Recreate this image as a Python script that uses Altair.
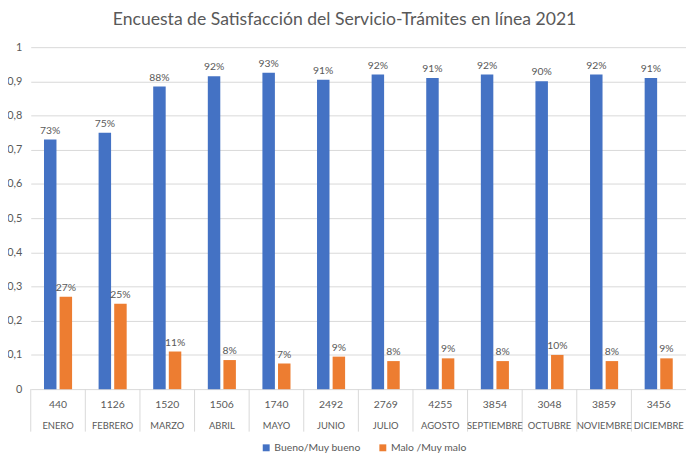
import altair as alt
import pandas as pd

months = ["ENERO", "FEBRERO", "MARZO", "ABRIL", "MAYO", "JUNIO", "JULIO",
          "AGOSTO", "SEPTIEMBRE", "OCTUBRE", "NOVIEMBRE", "DICIEMBRE"]
counts = ["440", "1126", "1520", "1506", "1740", "2492", "2769",
          "4255", "3854", "3048", "3859", "3456"]
series = ["Bueno/Muy bueno", "Malo /Muy malo"]
bueno = [0.73, 0.75, 0.885, 0.915, 0.925, 0.905, 0.92, 0.91, 0.92, 0.90, 0.92, 0.91]
malo = [0.27, 0.25, 0.11, 0.085, 0.075, 0.095, 0.082, 0.09, 0.082, 0.10, 0.082, 0.09]
bueno_lbl = ["73%", "75%", "88%", "92%", "93%", "91%", "92%", "91%", "92%", "90%", "92%", "91%"]
malo_lbl = ["27%", "25%", "11%", "8%", "7%", "9%", "8%", "9%", "8%", "10%", "8%", "9%"]
colors = ["#4472C4", "#ED7D31"]
y_ticks = [0, 0.1, 0.2, 0.3, 0.4, 0.5, 0.6, 0.7, 0.8, 0.9, 1]

rows = []
for i, m in enumerate(months):
    rows.append({"month": m, "series": series[0], "value": bueno[i], "label": bueno_lbl[i], "count": counts[i]})
    rows.append({"month": m, "series": series[1], "value": malo[i], "label": malo_lbl[i], "count": counts[i]})
df = pd.DataFrame(rows)
cats = pd.DataFrame({"month": months, "count": counts})

W, H = 663, 346
FONT = "Lato"
GREY = "#595959"

xs = alt.Scale(domain=months, paddingInner=0, paddingOuter=0)
xo = alt.Scale(domain=series, paddingInner=0.2, paddingOuter=0.85)

x_enc = alt.X("month:N", scale=xs, axis=None, sort=months)
xo_enc = alt.XOffset("series:N", scale=xo, sort=series)
y_enc = alt.Y("value:Q", scale=alt.Scale(domain=[0, 1]), title=None,
              axis=alt.Axis(values=y_ticks,
                            labelExpr="replace(format(datum.value, '.1~f'), '.', ',')",
                            domain=False, ticks=False, gridColor="#d9d9d9",
                            labelColor=GREY, labelFontSize=11, labelFont=FONT,
                            labelPadding=9, labelOverlap=False))

base = alt.Chart(df)

bars = base.mark_bar().encode(
    x=x_enc,
    xOffset=xo_enc,
    y=y_enc,
    color=alt.Color("series:N", scale=alt.Scale(domain=series, range=colors),
                    legend=alt.Legend(title=None, orient="none", direction="horizontal",
                                      legendX=233, legendY=400, symbolType="square",
                                      symbolSize=49, symbolStrokeWidth=0,
                                      labelFont=FONT, labelFontSize=10.5,
                                      labelColor=GREY, columnPadding=17,
                                      labelOffset=3)),
)

labels = base.mark_text(baseline="bottom", dy=-4, fontSize=10.5, font=FONT, color=GREY).encode(
    x=x_enc,
    xOffset=xo_enc,
    y=y_enc,
    text="label:N",
)

cbase = alt.Chart(cats)
count_txt = cbase.mark_text(baseline="middle", fontSize=10.5, font=FONT, color=GREY).encode(
    x=x_enc,
    y=alt.value(H + 16),
    text="count:N",
)
month_txt = cbase.mark_text(baseline="middle", fontSize=9.5, font=FONT, color=GREY).encode(
    x=x_enc,
    y=alt.value(H + 37),
    text="month:N",
)
seps = cbase.mark_rule(color="#d9d9d9", strokeWidth=1).encode(
    x=alt.X("month:N", scale=xs, axis=None, sort=months, bandPosition=0),
    y=alt.value(H),
    y2=alt.value(H + 43),
)

chart = alt.layer(bars, labels, seps, count_txt, month_txt).properties(
    width=W, height=H,
    title=alt.TitleParams("Encuesta de Satisfacción del Servicio-Trámites en línea 2021",
                          font=FONT, fontSize=17.8, fontWeight="normal", color=GREY,
                          anchor="middle", offset=13, dx=-14),
    autosize=alt.AutoSizeParams(type="none"),
    padding={"left": 23, "top": 37, "right": 0, "bottom": 62},
).configure_view(stroke=None)

chart.save("out.html", embed_options={"renderer": "svg", "actions": False})
